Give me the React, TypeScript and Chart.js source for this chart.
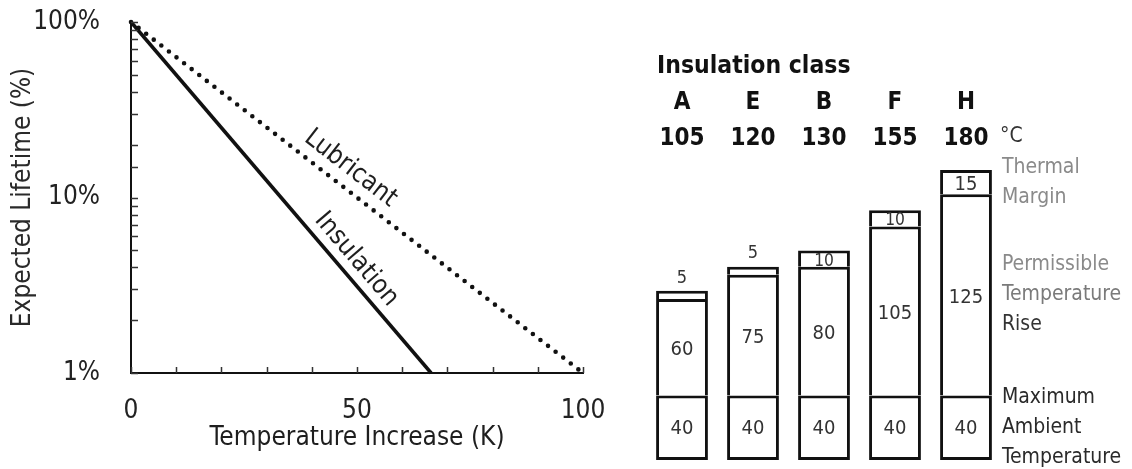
import { useEffect, useRef } from 'react';
import { Chart, registerables } from 'chart.js';

Chart.register(...registerables);

// ---- Expected lifetime vs. temperature increase (log scale) ----
const insulationTemp = [0, 66.4];
const insulationLife = [100, 1];
const lubricantTemp = [0, 100];
const lubricantLife = [100, 1];
const xLabelValues = [0, 50, 100];
const yLabelValues = [1, 10, 100];
const lineLabels = [
  { dataset: 1, text: 'Lubricant', at: 46, offset: 19 },
  { dataset: 0, text: 'Insulation', at: 47, offset: 17 },
];

// ---- Insulation classes ----
const classNames = ['A', 'E', 'B', 'F', 'H'];
const classLimits = [105, 120, 130, 155, 180];
const ambientTemp = [40, 40, 40, 40, 40];
const permissibleRise = [60, 75, 80, 105, 125];
const thermalMargin = [5, 5, 10, 10, 15];
const headerTitle = 'Insulation class';
const unitLabel = '°C';
const segmentNotes = [
  ['Maximum', 'Ambient', 'Temperature'],
  ['Permissible', 'Temperature', 'Rise'],
  ['Thermal', 'Margin'],
];
const noteColors = [
  ['#2a2a2a', '#2a2a2a', '#2a2a2a'],
  ['#8a8a8a', '#7a7a7a', '#333333'],
  ['#8a8a8a', '#8a8a8a'],
];

const FONT = 'DejaVu Sans Condensed';

const inwardTicks = {
  id: 'inwardTicks',
  afterDatasetsDraw(chart: any) {
    const { ctx, chartArea } = chart;
    const xs = chart.scales.x;
    const ys = chart.scales.y;
    ctx.save();
    ctx.strokeStyle = '#333';
    ctx.lineWidth = 1.5;
    ctx.beginPath();
    xs.ticks.forEach((t: any) => {
      const px = Math.round(xs.getPixelForValue(t.value)) + 0.5;
      ctx.moveTo(px, chartArea.bottom);
      ctx.lineTo(px, chartArea.bottom - 6);
    });
    ys.ticks.forEach((t: any) => {
      const py = Math.round(ys.getPixelForValue(t.value)) + 0.5;
      ctx.moveTo(chartArea.left, py);
      ctx.lineTo(chartArea.left + 7, py);
    });
    ctx.stroke();
    ctx.restore();
  },
};

const seriesTextPlugin = {
  id: 'seriesText',
  afterDatasetsDraw(chart: any) {
    const { ctx } = chart;
    const xs = chart.scales.x;
    const ys = chart.scales.y;
    ctx.save();
    ctx.font = `26px "${FONT}"`;
    ctx.fillStyle = '#1e1e1e';
    ctx.textAlign = 'center';
    ctx.textBaseline = 'middle';
    lineLabels.forEach((lab) => {
      const pts = chart.data.datasets[lab.dataset].data as { x: number; y: number }[];
      const x0 = xs.getPixelForValue(pts[0].x);
      const y0 = ys.getPixelForValue(pts[0].y);
      const x1 = xs.getPixelForValue(pts[1].x);
      const y1 = ys.getPixelForValue(pts[1].y);
      const dx = x1 - x0;
      const dy = y1 - y0;
      const len = Math.hypot(dx, dy);
      const ux = dx / len;
      const uy = dy / len;
      const px = xs.getPixelForValue(lab.at);
      const t = (px - x0) / dx;
      const cx = x0 + dx * t + uy * lab.offset;
      const cy = y0 + dy * t - ux * lab.offset;
      ctx.save();
      ctx.translate(cx, cy);
      ctx.rotate(Math.atan2(dy, dx));
      ctx.fillText(lab.text, 0, 0);
      ctx.restore();
    });
    ctx.restore();
  },
};

const segmentTextPlugin = {
  id: 'segmentText',
  afterDatasetsDraw(chart: any) {
    const { ctx } = chart;
    ctx.save();
    ctx.textAlign = 'center';
    ctx.textBaseline = 'middle';
    ctx.fillStyle = '#333';
    const n = chart.data.labels.length;
    chart.data.datasets.forEach((ds: any, di: number) => {
      const meta = chart.getDatasetMeta(di);
      meta.data.forEach((el: any, i: number) => {
        const { x, y, base } = el.getProps(['x', 'y', 'base'], true);
        const topB = 3;
        const botB = di === 0 ? 3 : 0;
        const inner = base - y - topB - botB;
        const value = ds.data[i];
        const size = Math.min(20, inner / 0.76);
        if (size >= 12) {
          ctx.font = `${size}px "${FONT}"`;
          ctx.fillText(String(value), x, (y + topB + base - botB) / 2 + 1);
        } else {
          ctx.font = `18px "${FONT}"`;
          ctx.fillText(String(value), x, y - 13);
        }
      });
    });

    // header title, unit and notes beside the last class
    const first = chart.getDatasetMeta(0).data[0];
    const lastIdx = n - 1;
    const lastEl = chart.getDatasetMeta(0).data[lastIdx];
    const fp = first.getProps(['x', 'width'], true);
    const lp = lastEl.getProps(['x', 'width'], true);
    ctx.textAlign = 'left';
    ctx.fillStyle = '#111';
    ctx.font = `bold 24.5px "${FONT}"`;
    ctx.fillText(headerTitle, fp.x - fp.width / 2 + 1, 67);
    ctx.font = `21px "${FONT}"`;
    ctx.fillStyle = '#333';
    ctx.fillText(unitLabel, lp.x + 34, 137);

    ctx.font = `21px "${FONT}"`;
    const noteX = lp.x + lp.width / 2 + 10;
    segmentNotes.forEach((lines, di) => {
      const el = chart.getDatasetMeta(di).data[lastIdx];
      const { y, base } = el.getProps(['y', 'base'], true);
      const cy = (y + base) / 2;
      const spacing = 30;
      lines.forEach((line, li) => {
        ctx.fillStyle = noteColors[di][li];
        ctx.fillText(line, noteX, cy + (li - (lines.length - 1) / 2) * spacing);
      });
    });
    ctx.restore();
  },
};

export default function App() {
  const leftRef = useRef<HTMLCanvasElement>(null);
  const rightRef = useRef<HTMLCanvasElement>(null);

  useEffect(() => {
    const left = new Chart(leftRef.current!, {
      type: 'line',
      data: {
        datasets: [
          {
            label: 'Insulation',
            data: insulationTemp.map((x, i) => ({ x, y: insulationLife[i] })),
            borderColor: '#111',
            borderWidth: 3.5,
            pointRadius: 0,
            fill: false,
            clip: false,
          },
          {
            label: 'Lubricant',
            data: lubricantTemp.map((x, i) => ({ x, y: lubricantLife[i] })),
            borderColor: '#111',
            borderWidth: 4.6,
            borderDash: [0, 9.6],
            borderCapStyle: 'round',
            pointRadius: 0,
            fill: false,
            clip: false,
          },
        ],
      },
      options: {
        responsive: false,
        animation: false,
        layout: { padding: { top: 22, right: 37, bottom: 0, left: 0 } },
        plugins: { legend: { display: false }, tooltip: { enabled: false } },
        scales: {
          x: {
            type: 'linear',
            min: 0,
            max: 100,
            ticks: {
              stepSize: 10,
              autoSkip: false,
              maxRotation: 0,
              padding: 15,
              color: '#222',
              font: { family: FONT, size: 26 },
              callback: (v: any) => (xLabelValues.includes(Number(v)) ? String(v) : ''),
            },
            grid: { display: false },
            border: { display: true, color: '#111', width: 2 },
            title: {
              display: true,
              text: 'Temperature Increase (K)',
              color: '#1e1e1e',
              font: { family: FONT, size: 26 },
              padding: { top: 0, bottom: 15 },
            },
            afterFit: (s: any) => {
              s.height = 96;
              s.paddingLeft = 0;
              s.paddingRight = 0;
            },
          },
          y: {
            type: 'logarithmic',
            min: 1,
            max: 100,
            ticks: {
              autoSkip: false,
              padding: 23,
              color: '#222',
              font: { family: FONT, size: 26 },
              callback: (v: any) =>
                yLabelValues.some((l) => Math.abs(l - Number(v)) < 1e-9) ? `${v}%` : '',
            },
            grid: { display: false },
            border: { display: true, color: '#111', width: 2 },
            title: {
              display: true,
              text: 'Expected Lifetime (%)',
              color: '#2a2a2a',
              font: { family: FONT, size: 26 },
              padding: { top: 8, bottom: 0 },
            },
            afterFit: (s: any) => {
              s.width = 131;
              s.paddingTop = 0;
              s.paddingBottom = 0;
            },
          },
        },
      },
      plugins: [inwardTicks, seriesTextPlugin],
    } as any);

    const barStyle = {
      backgroundColor: '#ffffff',
      borderColor: '#111',
      borderSkipped: false,
      categoryPercentage: 1,
      barPercentage: 0.73,
    };

    const right = new Chart(rightRef.current!, {
      type: 'bar',
      data: {
        labels: classNames.map((c, i) => [c, String(classLimits[i])]),
        datasets: [
          {
            label: 'Maximum Ambient Temperature',
            data: ambientTemp,
            borderWidth: { top: 3, left: 3, right: 3, bottom: 3 },
            ...barStyle,
          },
          {
            label: 'Permissible Temperature Rise',
            data: permissibleRise,
            borderWidth: { top: 3, left: 3, right: 3, bottom: 0 },
            ...barStyle,
          },
          {
            label: 'Thermal Margin',
            data: thermalMargin,
            borderWidth: { top: 3, left: 3, right: 3, bottom: 0 },
            ...barStyle,
          },
        ],
      },
      options: {
        responsive: false,
        animation: false,
        layout: { padding: { left: 26.5, right: 130.5, top: 0, bottom: 9 } },
        plugins: { legend: { display: false }, tooltip: { enabled: false } },
        scales: {
          x: {
            position: 'top',
            stacked: true,
            grid: { display: false },
            border: { display: false },
            ticks: {
              autoSkip: false,
              maxRotation: 0,
              padding: 5,
              color: '#111',
              font: { family: FONT, size: 24, weight: 'bold', lineHeight: '36px' },
            },
            afterFit: (s: any) => {
              s.height = 170;
            },
          },
          y: { stacked: true, display: false, min: 0, max: 180 },
        },
      },
      plugins: [segmentTextPlugin],
    } as any);

    return () => {
      left.destroy();
      right.destroy();
    };
  }, []);

  return (
    <div
      style={{
        position: 'fixed',
        left: 0,
        top: 0,
        width: 1132,
        height: 469,
        background: '#fff',
      }}
    >
      <canvas
        ref={leftRef}
        width={620}
        height={469}
        style={{ position: 'absolute', left: 0, top: 0, width: 620, height: 469 }}
      />
      <canvas
        ref={rightRef}
        width={512}
        height={469}
        style={{ position: 'absolute', left: 620, top: 0, width: 512, height: 469 }}
      />
    </div>
  );
}
